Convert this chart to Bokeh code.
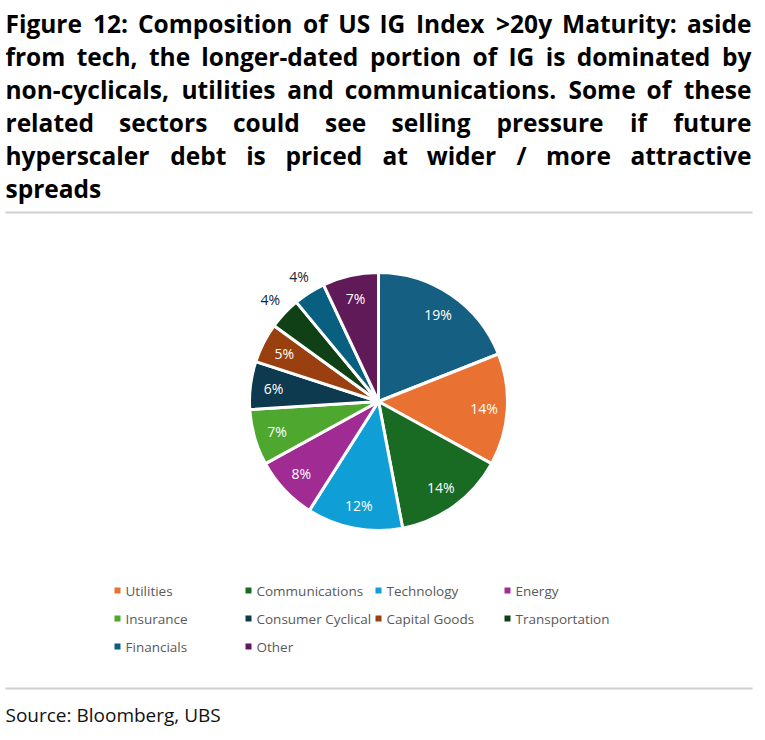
import numpy as np
from bokeh.plotting import figure
from bokeh.models import Range1d, ColumnDataSource
from bokeh.core.properties import value
from bokeh.embed import file_html
from bokeh.resources import INLINE

# ---------------- data ----------------
sectors = ["Consumer Non-Cyclical", "Utilities", "Communications", "Technology", "Energy",
           "Insurance", "Consumer Cyclical", "Capital Goods", "Transportation", "Financials", "Other"]
shares = [19, 14, 14, 12, 8, 7, 6, 5, 4, 4, 7]
colors = ["#156082", "#E97132", "#196B24", "#0F9ED5", "#A02B93", "#4EA72E",
          "#0D3A4E", "#993F10", "#0F4016", "#095F80", "#601A58"]
show_in_legend = [False, True, True, True, True, True, True, True, True, True, True]

title_lines = [
    "Figure 12: Composition of US IG Index >20y Maturity: aside",
    "from tech, the longer-dated portion of IG is dominated by",
    "non-cyclicals, utilities and communications. Some of these",
    "related sectors could see selling pressure if future",
    "hyperscaler debt is priced at wider / more attractive",
    "spreads",
]
justified = [True, True, True, True, True, False]
source_text = "Source: Bloomberg, UBS"

# ---------------- layout (pixels of the reference) ----------------
W, H = 765, 740
def X(px):
    return px
def Y(py):
    return H - py

TITLE_SIZE = 24.5
line_mid = [23, 56, 89, 122, 155, 188]
left_edge, right_edge = 5, 751

# approximate advance widths (em) of Open Sans Bold, used to justify lines
ADV = {'a': .59, 'b': .64, 'c': .52, 'd': .64, 'e': .60, 'f': .41, 'g': .57, 'h': .67,
       'i': .31, 'j': .31, 'k': .62, 'l': .31, 'm': .98, 'n': .67, 'o': .62, 'p': .64,
       'q': .64, 'r': .46, 's': .51, 't': .43, 'u': .67, 'v': .58, 'w': .87, 'x': .60,
       'y': .58, 'z': .50, 'C': .63, 'F': .56, 'I': .36, 'G': .73, 'M': .92, 'S': .55,
       'U': .73, ':': .29, ',': .29, '.': .29, '-': .32, '>': .57, '/': .42}
def word_w(w):
    return sum(ADV.get(ch, .57) for ch in w) * TITLE_SIZE

p = figure(width=W, height=H, x_range=Range1d(0, W), y_range=Range1d(0, H),
           output_backend="svg", toolbar_location=None, min_border=0,
           x_axis_type=None, y_axis_type=None)
p.grid.visible = False
p.outline_line_color = None
p.background_fill_color = "white"
p.border_fill_color = "white"

# ---------------- title (justified word by word) ----------------
tx, ty, tt, ta = [], [], [], []
for line, just, mid_y in zip(title_lines, justified, line_mid):
    words = line.split(" ")
    if not just or len(words) == 1:
        tx.append(X(left_edge)); ty.append(Y(mid_y)); tt.append(line); ta.append("left")
        continue
    widths = [word_w(w) for w in words]
    gap = ((right_edge - left_edge) - sum(widths)) / (len(words) - 1)
    x = left_edge
    for i, (w, ww) in enumerate(zip(words, widths)):
        if i == len(words) - 1:
            tx.append(X(right_edge)); ta.append("right")
        else:
            tx.append(X(x)); ta.append("left")
        ty.append(Y(mid_y)); tt.append(w)
        x += ww + gap
p.text(x=tx, y=ty, text=tt, text_align=ta, text_baseline="middle",
       text_font=value("Open Sans"), text_font_style="bold",
       text_font_size=f"{TITLE_SIZE}px", text_color="#000000")

# separator lines
p.segment(x0=[X(5), X(5)], y0=[Y(212), Y(688)], x1=[X(752), X(752)], y1=[Y(212), Y(688)],
          line_color="#d0d0d0", line_width=2)

# ---------------- pie ----------------
cx, cy, R = X(378), Y(401), 129
vals = np.array(shares, dtype=float)
frac = vals / vals.sum()
cum = np.concatenate([[0], np.cumsum(frac)])
start = np.pi / 2 - 2 * np.pi * cum[:-1]
end = np.pi / 2 - 2 * np.pi * cum[1:]
src = ColumnDataSource(dict(start=start, end=end, color=colors, name=sectors))
p.wedge(x=cx, y=cy, radius=R, start_angle="start", end_angle="end", direction="clock",
        fill_color="color", line_color="white", line_width=3, source=src)

mid = (start + end) / 2
inside = vals >= 5
lr = np.where(inside, 0.82 * R, 1.15 * R)
lx = cx + lr * np.cos(mid)
ly = cy + lr * np.sin(mid)
lc = np.where(inside, "#FFFFFF", "#0E2841").tolist()
labels = [f"{v:.0f}%" for v in vals]
p.text(x=lx, y=ly, text=labels, text_color=lc, text_align="center", text_baseline="middle",
       text_font=value("Open Sans"), text_font_size="14px")

# ---------------- legend ----------------
col_x = [117, 248, 378, 507]
row_y = [590, 618, 646]
leg_names = [n for n, s in zip(sectors, show_in_legend) if s]
leg_cols = [c for c, s in zip(colors, show_in_legend) if s]
mx = [X(col_x[i % 4]) for i in range(len(leg_names))]
my = [Y(row_y[i // 4]) for i in range(len(leg_names))]
p.scatter(x=mx, y=my, marker="square", size=6, fill_color=leg_cols, line_color=None)
p.text(x=[m + 8 for m in mx], y=my, text=leg_names, text_align="left", text_baseline="middle",
       text_font=value("Open Sans"), text_font_size="13.5px", text_color="#595959")

# ---------------- source ----------------
p.text(x=[X(5)], y=[Y(714)], text=[source_text], text_align="left", text_baseline="middle",
       text_font=value("Open Sans"), text_font_size="19px", text_color="#111111")

open("out.html", "w").write(file_html(p, INLINE))
